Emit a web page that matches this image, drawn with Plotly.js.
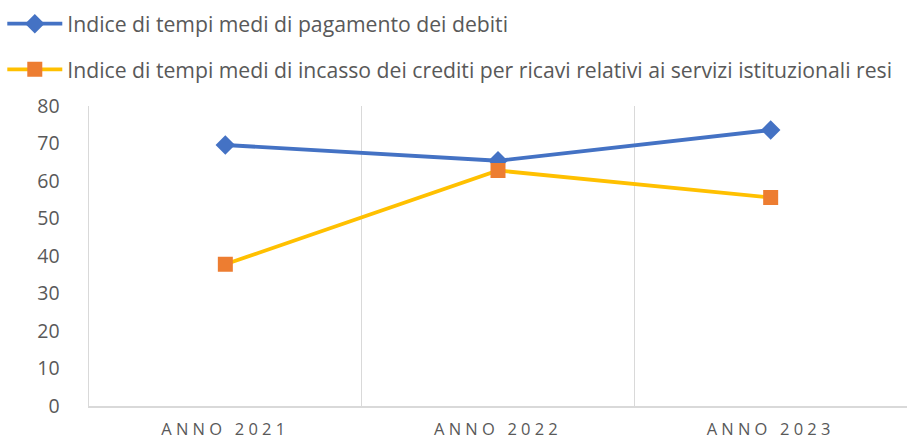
<!DOCTYPE html>
<html><head><meta charset="utf-8">
<script src="https://cdn.plot.ly/plotly-3.0.1.min.js"></script>
<style>
html,body{margin:0;padding:0;background:#fff;}
#chart{width:907px;height:441px;}
.xtick text{letter-spacing:4.2px;}
</style></head>
<body><div id="chart"></div>
<script>
const categories = ["ANNO 2021", "ANNO 2022", "ANNO 2023"];
const seriesNames = [
  "Indice di tempi medi di pagamento dei debiti",
  "Indice di tempi medi di incasso dei crediti per ricavi relativi ai servizi istituzionali resi"
];
const pagamentoDebiti = [69.6, 65.4, 73.6];
const incassoCrediti = [37.8, 62.8, 55.6];
const yTicks = [0, 10, 20, 30, 40, 50, 60, 70, 80];

const textColor = "#595959";
const fontFam = "Open Sans, Noto Sans, sans-serif";

const traces = [
  {x: categories, y: pagamentoDebiti, name: seriesNames[0], type: "scatter", mode: "lines+markers",
   line: {color: "#4472C4", width: 3.8}, marker: {symbol: "diamond", size: 15, color: "#4472C4"},
   legend: "legend"},
  {x: categories, y: incassoCrediti, name: seriesNames[1], type: "scatter", mode: "lines+markers",
   line: {color: "#FFC000", width: 3.8}, marker: {symbol: "square", size: 15, color: "#ED7D31"},
   legend: "legend2"}
];

const legendCommon = {orientation: "v", xanchor: "left", yanchor: "top", bgcolor: "rgba(0,0,0,0)",
  font: {family: fontFam, size: 21.2, color: textColor}, itemwidth: 55};

const layout = {
  width: 907, height: 441,
  margin: {l: 89, r: 0, t: 106, b: 35},
  paper_bgcolor: "#fff", plot_bgcolor: "#fff",
  showlegend: true,
  legend: Object.assign({x: -0.106, y: 1.342}, legendCommon),
  legend2: Object.assign({x: -0.106, y: 1.19}, legendCommon),
  xaxis: {type: "category", range: [-0.5, 2.5], tickson: "boundaries", showgrid: true,
    gridcolor: "#d9d9d9", gridwidth: 1.5, showline: true, linecolor: "#d9d9d9", linewidth: 1.5,
    ticks: "", ticklabelstandoff: 8, tickfont: {family: fontFam, size: 16.5, color: textColor}, fixedrange: true,
    tickvals: categories, ticktext: categories},
  yaxis: {range: [0, 80], tickvals: yTicks, showgrid: false, zeroline: false,
    showline: true, linecolor: "#d9d9d9", linewidth: 1.5, ticks: "",
    ticklabelstandoff: 24, tickfont: {family: fontFam, size: 19.5, color: textColor}}
};

Plotly.newPlot("chart", traces, layout, {displayModeBar: false, staticPlot: true});
</script></body></html>
